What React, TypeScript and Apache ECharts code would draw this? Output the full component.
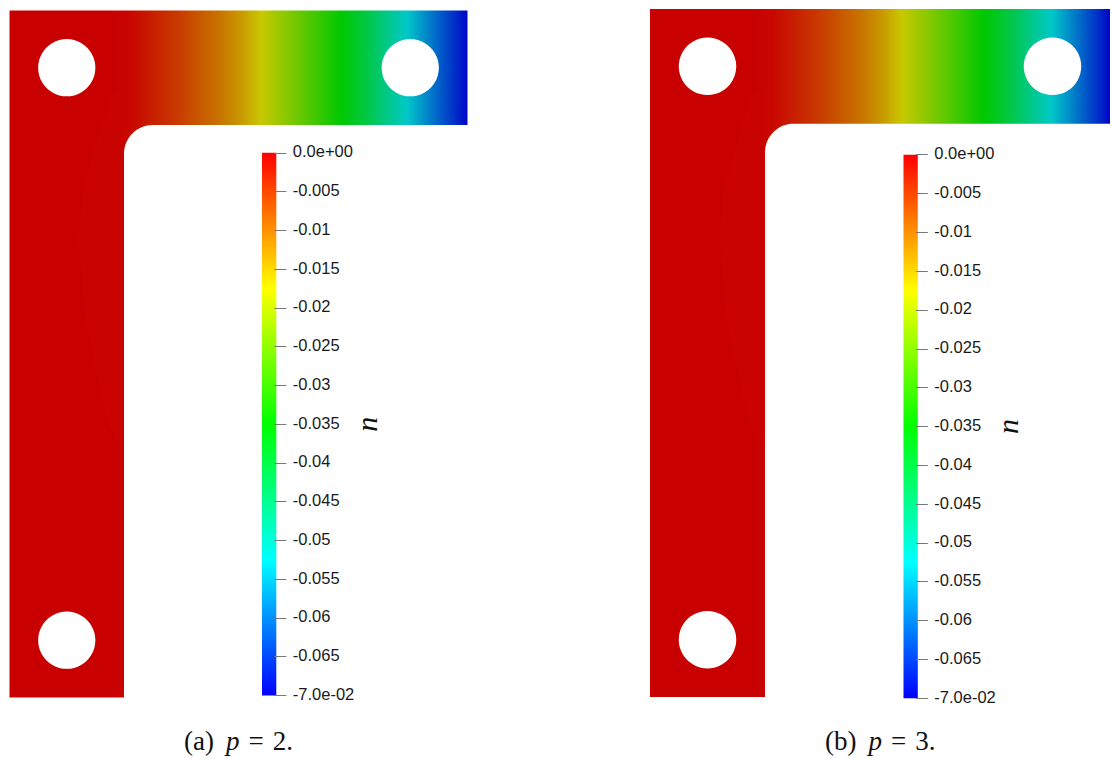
import React, { useEffect, useRef } from "react";
import * as echarts from "echarts";

// Scalar field u (station in domain units, value of u)
const stationsA = [0, 0.9, 1.08, 1.46, 1.81, 2.01, 2.2, 2.54, 2.9, 3.12, 3.47, 3.7, 4];
const stationsB = [0, 0.9, 1.08, 1.46, 1.81, 2.01, 2.19, 2.54, 2.9, 3.13, 3.49, 3.72, 4];
const fieldU = [0, 0, -0.0008, -0.005, -0.0097, -0.0131, -0.0175, -0.026, -0.035, -0.041, -0.0525, -0.06, -0.0695];

// faint contour in the vertical arm
const contourX = [0.895, 0.79, 0.73, 0.64, 0.6, 0.66, 0.85, 0.98, 1, 1];
const contourY = [0.72, 1.04, 1.245, 1.57, 1.98, 2.7, 3.58, 3.86, 3.86, 0.72];
const contourU = -0.00025;

// Plate geometry in domain units
const outlineX = [0, 4, 4, 1.25];
const outlineY = [0, 0, 1, 1];
const filletRadius = 0.25;
const holes = [[0.5, 0.5], [3.5, 0.5], [0.5, 5.5]];
const holeRadius = 0.25;

// Colour map
const mapU = [0, -0.0175, -0.035, -0.0525, -0.07];
const mapRGB = [[255, 0, 0], [255, 255, 0], [0, 255, 0], [0, 255, 255], [0, 0, 255]];
const plateShade = 0.785;

const tickLabels = ["-7.0e-02", "-0.065", "-0.06", "-0.055", "-0.05", "-0.045", "-0.04", "-0.035", "-0.03", "-0.025", "-0.02", "-0.015", "-0.01", "-0.005", "0.0e+00"];

const colorOf = (u: number, shade = 1) => {
  let i = 0;
  while (i < mapU.length - 2 && u < mapU[i + 1]) i++;
  const t = Math.min(1, Math.max(0, (u - mapU[i]) / (mapU[i + 1] - mapU[i])));
  const c = mapRGB[i].map((v, k) => Math.round((v + (mapRGB[i + 1][k] - v) * t) * shade));
  return `rgb(${c[0]},${c[1]},${c[2]})`;
};

const lPoints = () => {
  const pts: number[][] = outlineX.map((x, i) => [x, outlineY[i]]);
  const r = filletRadius;
  for (let k = 1; k <= 16; k++) {
    const a = Math.PI / 2 + (k / 16) * (Math.PI / 2);
    pts.push([1 + r + r * Math.cos(a), 1 + r - r * Math.sin(a)]);
  }
  pts.push([1, 6], [0, 6]);
  return pts;
};

const panels = [
  { left: 9.5, top: 10.5, width: 458, height: 687, stations: stationsA, barLeft: 262, barTop: 152.8, barH: 542.7 },
  { left: 650, top: 9, width: 460, height: 688, stations: stationsB, barLeft: 903.5, barTop: 154.7, barH: 543.5 },
];
const captions = [
  { left: 184, top: 727, label: "(a)", val: "2." },
  { left: 825, top: 727, label: "(b)", val: "3." },
];

function buildOption() {
  const grid: any[] = [], xAxis: any[] = [], yAxis: any[] = [], series: any[] = [];
  panels.forEach((p, n) => {
    const gPlate = grid.length;
    grid.push({ left: p.left, top: p.top, width: p.width, height: p.height, show: false });
    xAxis.push({ type: "value", gridIndex: gPlate, min: 0, max: 4, show: false });
    yAxis.push({ type: "value", gridIndex: gPlate, min: 0, max: 6, inverse: true, show: false });
    const gBar = grid.length;
    grid.push({ left: p.barLeft, top: p.barTop, width: 14.3, height: p.barH, show: false });
    xAxis.push({ type: "value", gridIndex: gBar, min: 0, max: 1, show: false });
    yAxis.push({
      type: "value",
      gridIndex: gBar,
      min: -0.07,
      max: 0,
      interval: 0.005,
      position: "right",
      offset: -2,
      z: 5,
      axisLine: { show: false, onZero: false },
      axisTick: { show: true, length: 12, lineStyle: { color: "#777", width: 1 } },
      splitLine: { show: false },
      axisLabel: {
        margin: 18.5,
        color: "#1a1a1a",
        fontFamily: "Liberation Sans",
        fontSize: 16.5,
        verticalAlign: "bottom",
        lineHeight: 3,
        formatter: (_: number, i: number) => tickLabels[i],
      },
      name: "u",
      nameLocation: "middle",
      nameGap: 64,
      nameRotate: -90,
      nameTextStyle: { fontFamily: "Liberation Serif", fontStyle: "italic", fontSize: 30, color: "#111" },
    });

    const stops = p.stations.map((x, i) => ({ offset: x / 4, color: colorOf(fieldU[i], plateShade) }));
    series.push({
      type: "custom",
      name: `plate ${n}`,
      coordinateSystem: "cartesian2d",
      xAxisIndex: gPlate,
      yAxisIndex: gPlate,
      clip: false,
      silent: true,
      data: [[0, 0]],
      renderItem: (_: any, api: any) => ({
        type: "polygon",
        shape: { points: lPoints().map((q) => api.coord(q)) },
        style: { fill: new echarts.graphic.LinearGradient(0, 0, 1, 0, stops) },
      }),
    });
    series.push({
      type: "custom",
      name: `contour ${n}`,
      coordinateSystem: "cartesian2d",
      xAxisIndex: gPlate,
      yAxisIndex: gPlate,
      clip: false,
      silent: true,
      data: [[0, 0]],
      renderItem: (_: any, api: any) => ({
        type: "polygon",
        shape: { points: contourX.map((x, i) => api.coord([x, contourY[i]])) },
        style: { fill: colorOf(contourU, plateShade) },
      }),
    });
    series.push({
      type: "custom",
      name: `holes ${n}`,
      coordinateSystem: "cartesian2d",
      xAxisIndex: gPlate,
      yAxisIndex: gPlate,
      clip: false,
      silent: true,
      data: holes,
      renderItem: (_: any, api: any) => {
        const c = api.coord([api.value(0), api.value(1)]);
        return {
          type: "circle",
          shape: { cx: c[0], cy: c[1], r: api.size([holeRadius, 0])[0] },
          style: { fill: "#fff" },
        };
      },
    });
    const barStops = mapU.map((u) => ({ offset: u / mapU[mapU.length - 1], color: colorOf(u) }));
    series.push({
      type: "custom",
      name: `colorbar ${n}`,
      coordinateSystem: "cartesian2d",
      xAxisIndex: gBar,
      yAxisIndex: gBar,
      clip: false,
      silent: true,
      z: 1,
      data: [[0, 0]],
      renderItem: (_: any, api: any) => {
        const a = api.coord([0, mapU[0]]);
        const b = api.coord([1, mapU[mapU.length - 1]]);
        return {
          type: "rect",
          shape: { x: a[0], y: a[1], width: b[0] - a[0], height: b[1] - a[1] },
          style: { fill: new echarts.graphic.LinearGradient(0, 0, 0, 1, barStops) },
        };
      },
    });
  });

  const serif = { fontFamily: "Liberation Serif", fontSize: 27, fontWeight: "normal" as const, color: "#111" };
  const title = captions.map((c) => ({
    left: c.left,
    top: c.top,
    padding: 0,
    text: `{r|${c.label}}{i|p}{e|=}{r|${c.val}}`,
    textStyle: {
      ...serif,
      rich: {
        r: { ...serif },
        i: { ...serif, fontStyle: "italic", padding: [0, 9, 0, 12] },
        e: { ...serif, padding: [0, 9, 0, 0] },
      },
    },
  }));

  return { animation: false, backgroundColor: "#fff", title, grid, xAxis, yAxis, series };
}

export default function App() {
  const ref = useRef<HTMLDivElement>(null);
  useEffect(() => {
    document.body.style.margin = "0";
    const chart = echarts.init(ref.current!, null, { renderer: "svg" });
    chart.setOption(buildOption() as any);
    return () => chart.dispose();
  }, []);
  return <div ref={ref} style={{ width: 1113, height: 758 }} />;
}
